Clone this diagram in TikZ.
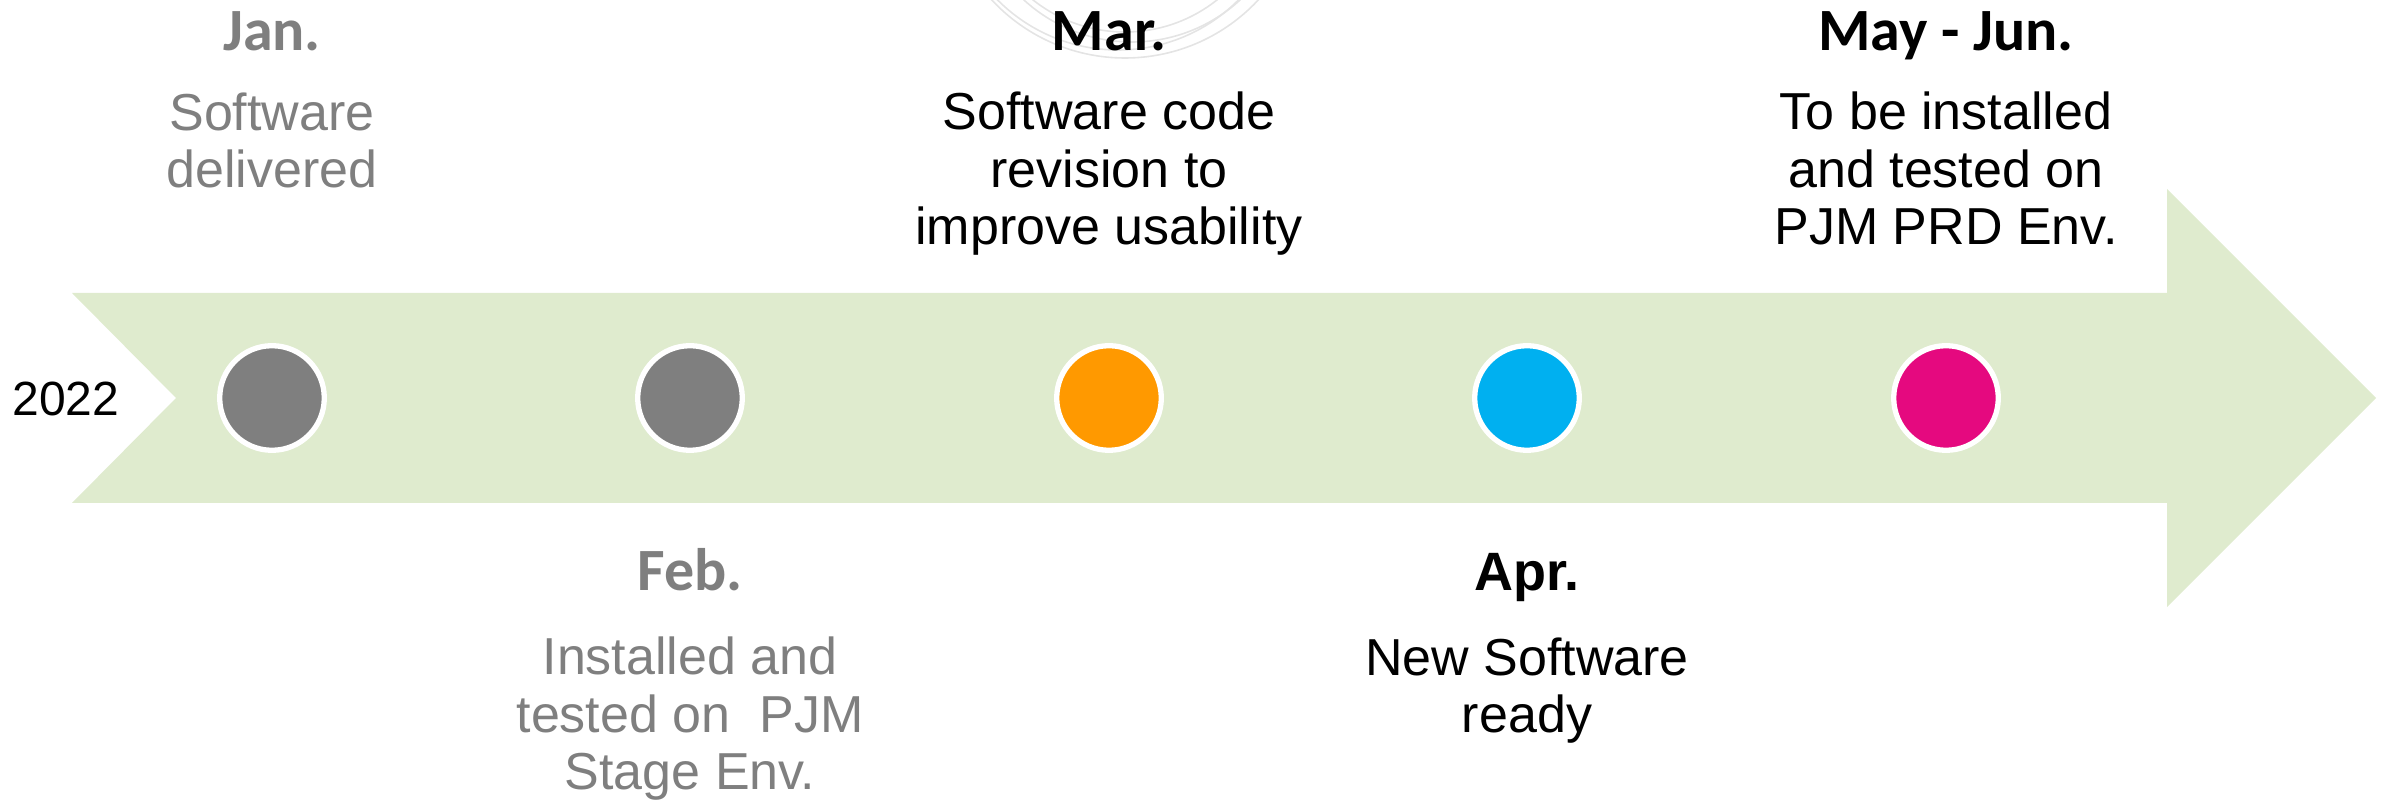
\documentclass[tikz,border=0pt]{standalone}
\usepackage{fontspec}
\setmainfont{Liberation Sans}
\newfontfamily\calibri{Carlito}
\definecolor{bandgreen}{HTML}{DFEBCE}
\definecolor{fadegray}{HTML}{7F7F7F}
\definecolor{dotorange}{HTML}{FF9900}
\definecolor{dotblue}{HTML}{00B0F0}
\definecolor{dotpink}{HTML}{E5097F}
\definecolor{ringgray}{HTML}{E4E4E4}
\begin{document}
\begin{tikzpicture}[x=0.5pt, y=-0.5pt]
	\tikzstyle{dot}   = [circle, minimum size=52.3pt, inner sep=0pt, draw=white, line width=2.65pt]
	\tikzstyle{month} = [anchor=base, inner sep=0pt, font=\calibri\bfseries\fontsize{30}{36}\selectfont]
	\tikzstyle{note}  = [anchor=base, inner sep=0pt, align=center, font=\fontsize{26}{28.75}\selectfont]

	\useasboundingbox (0,0) rectangle (2384,801);

	% faint rings behind Mar.
	\begin{scope}
		\clip (0,0) rectangle (2384,801);
		\foreach \cx/\cy/\r in {1125/-124/182, 1118/-120/170, 1132/-118/160, 1125/-116/148}
			\draw[ringgray, line width=0.8pt] (\cx,\cy) circle[radius=\r];
	\end{scope}

	% timeline band
	\fill[bandgreen] (72,293) -- (2167,293) -- (2167,189) -- (2376,398) -- (2167,607)
		-- (2167,503) -- (72,503) -- (176,398) -- cycle;
	\node[font=\fontsize{24}{28}\selectfont] (year) at (66,399) {2022};

	\foreach \name/\x/\col in {jan/272/fadegray, feb/690/fadegray, mar/1109/dotorange, apr/1527/dotblue, may/1946/dotpink}
		\node[dot, fill=\col] (\name) at (\x,398) {};

	% labels above (notes sit on their last line)
	\node[month, text=fadegray] (janhead) at (272,51) {Jan.};
	\node[note, text=fadegray] (jannote) at (272,188) {Software\\delivered};
	\node[month] (marhead) at (1109,51) {Mar.};
	\node[note] (marnote) at (1109,245) {Software code\\revision to\\improve usability};
	\node[month] (mayhead) at (1946,51) {May - Jun.};
	\node[note] (maynote) at (1946,245) {To be installed\\and tested on\\PJM PRD Env.};

	% labels below
	\node[month, text=fadegray] (febhead) at (690,591) {Feb.};
	\node[note, text=fadegray] (febnote) at (690,790) {Installed and\\tested on~ PJM\\Stage Env.};
	\node[month, font=\bfseries\fontsize{27}{32}\selectfont] (aprhead) at (1527,591) {Apr.};
	\node[note] (aprnote) at (1527,733) {New Software\\ready};
\end{tikzpicture}
\end{document}
